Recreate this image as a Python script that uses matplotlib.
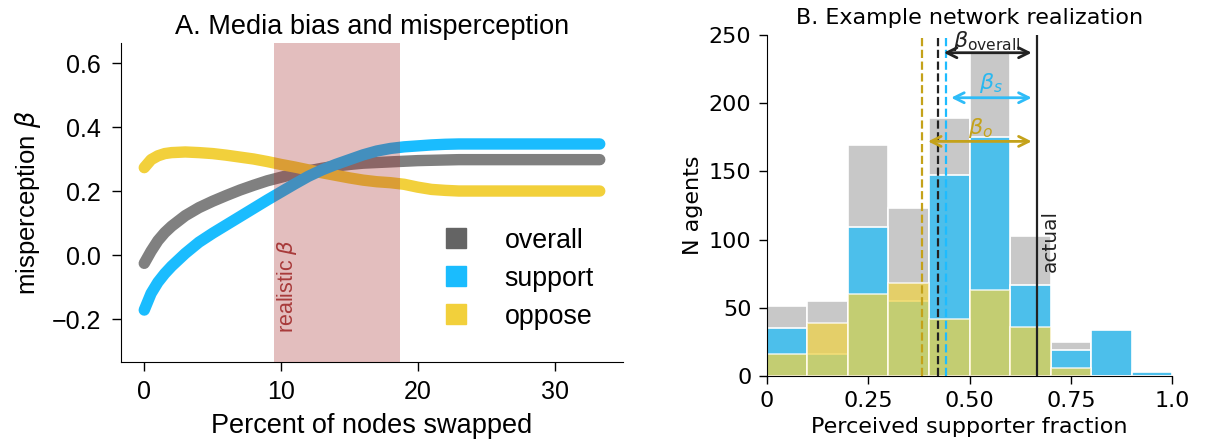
import matplotlib
matplotlib.use('Agg')
import matplotlib.pyplot as plt
from matplotlib.lines import Line2D

# ---------------- Panel A data ----------------
swapped_pct = [0, 0.5, 1, 1.5, 2, 3, 4, 5, 6, 7, 8, 9, 10, 11, 12, 13, 14, 15,
               16, 17, 18, 19, 20, 21, 22, 23, 25, 28, 31, 33.3]
beta_overall = [-0.026, 0.012, 0.045, 0.070, 0.090, 0.123, 0.148, 0.168, 0.186,
                0.203, 0.218, 0.232, 0.243, 0.254, 0.263, 0.271, 0.278, 0.283,
                0.287, 0.289, 0.291, 0.293, 0.295, 0.296, 0.297, 0.298, 0.298,
                0.298, 0.298, 0.298]
beta_support = [-0.172, -0.120, -0.085, -0.058, -0.035, 0.005, 0.040, 0.068,
                0.094, 0.120, 0.146, 0.172, 0.197, 0.222, 0.246, 0.266, 0.283,
                0.298, 0.313, 0.325, 0.333, 0.338, 0.341, 0.344, 0.346, 0.347,
                0.347, 0.347, 0.347, 0.347]
beta_oppose = [0.273, 0.298, 0.310, 0.317, 0.320, 0.322, 0.320, 0.317, 0.312,
               0.306, 0.300, 0.292, 0.283, 0.275, 0.266, 0.257, 0.249, 0.241,
               0.234, 0.229, 0.226, 0.221, 0.212, 0.205, 0.202, 0.200, 0.200,
               0.200, 0.200, 0.200]
realistic_range = [9.5, 18.7]
series_labels = ['overall', 'support', 'oppose']

# ---------------- Panel B data ----------------
bin_edges = [0.0, 0.1, 0.2, 0.3, 0.4, 0.5, 0.6, 0.7, 0.8, 0.9, 1.0]
support_counts = [35, 16, 109, 55, 147, 175, 67, 19, 34, 3]
oppose_counts = [16, 39, 60, 68, 42, 63, 36, 6, 0, 0]
overall_counts = [51, 55, 169, 123, 189, 238, 103, 25, 34, 3]
perceived_overall = 0.423
perceived_support = 0.441
perceived_oppose = 0.384
actual_fraction = 0.667
arrow_levels = [237, 204, 172]   # overall, support, oppose

# ---------------- styling ----------------
C_OVERALL_LINE = '#808080'
C_OVERALL_LEG = '#646464'
C_SUPPORT = '#1abcfe'
C_OPPOSE = '#f2d03b'
C_GRAY_BAR = '#c8c8c8'
C_BLUE_BAR = '#4cbfeb'
C_GOLD = '#c4a21a'
C_DARK = '#222222'
ARIAL = 'Liberation Sans'

plt.rcParams['font.family'] = ['DejaVu Sans']

fig = plt.figure(figsize=(12.08, 4.47), dpi=100)

# ================= Panel A =================
axA = fig.add_axes([121 / 1208, 1 - 361.7 / 447, 502 / 1208, 318.4 / 447])
axA.plot(swapped_pct, beta_overall, color=C_OVERALL_LINE, lw=8.2,
         solid_capstyle='round', zorder=2)
axA.plot(swapped_pct, beta_oppose, color=C_OPPOSE, lw=8.2,
         solid_capstyle='round', zorder=2.1)
axA.plot(swapped_pct, beta_support, color=C_SUPPORT, lw=8.2,
         solid_capstyle='round', zorder=2.2)
axA.axvspan(realistic_range[0], realistic_range[1], color='brown', alpha=0.3,
            lw=0, zorder=3)
axA.text(10.45, -0.097, r'realistic $\beta$', rotation=90, ha='center',
         va='center', color='#a83a3a', fontsize=15.5, family=ARIAL, zorder=4)

axA.set_xlim(-1.7, 35.0)
axA.set_ylim(-0.3334, 0.6616)
axA.set_xticks([0, 10, 20, 30])
axA.set_yticks([-0.2, 0.0, 0.2, 0.4, 0.6])
axA.set_yticklabels(['\u22120.2', '0.0', '0.2', '0.4', '0.6'])
for lab in axA.get_xticklabels() + axA.get_yticklabels():
    lab.set_family(ARIAL)
    lab.set_fontsize(18)
axA.tick_params(length=6.5, width=1, pad=7)
axA.tick_params(axis='y', pad=8)
for s in ['top', 'right']:
    axA.spines[s].set_visible(False)
axA.set_xlabel('Percent of nodes swapped', family=ARIAL, fontsize=19.5,
               labelpad=6)
axA.set_ylabel(r'misperception $\beta$', family=ARIAL, fontsize=18.5,
               labelpad=6)
axA.set_title('A. Media bias and misperception', family=ARIAL, fontsize=19.5,
              pad=7)

handles = [Line2D([], [], marker='s', ls='none', markersize=14.5,
                  color=c) for c in (C_OVERALL_LEG, C_SUPPORT, C_OPPOSE)]
axA.legend(handles, series_labels, frameon=False, loc='upper left',
           bbox_to_anchor=(0.593, 0.455), borderaxespad=0,
           prop={'family': ARIAL, 'size': 19.3}, handletextpad=0.8,
           labelspacing=0.45)

# ================= Panel B =================
axB = fig.add_axes([766.7 / 1208, 1 - 376 / 447, 405.6 / 1208, 341 / 447])
lefts = bin_edges[:-1]
widths = [bin_edges[i + 1] - bin_edges[i] for i in range(len(lefts))]
axB.bar(lefts, overall_counts, width=widths, align='edge', color=C_GRAY_BAR,
        edgecolor='white', lw=1.2, zorder=1)
axB.bar(lefts, support_counts, width=widths, align='edge', color=C_BLUE_BAR,
        edgecolor='white', lw=1.2, zorder=1.1)
axB.bar(lefts, oppose_counts, width=widths, align='edge', color='#eed248',
        alpha=0.74, edgecolor='white', lw=1.2, zorder=1.2)

axB.axvline(perceived_oppose, color=C_GOLD, ls='--', lw=1.6, zorder=3)
axB.axvline(perceived_overall, color=C_DARK, ls='--', lw=1.6, zorder=3)
axB.axvline(perceived_support, color='#1ebcff', ls='--', lw=1.6, zorder=3)
axB.axvline(actual_fraction, color=C_DARK, ls='-', lw=1.6, zorder=3)

for start, level, col in zip(
        [perceived_overall, perceived_support, perceived_oppose],
        arrow_levels, [C_DARK, '#2ebcf8', C_GOLD]):
    axB.annotate('', xy=(actual_fraction, level), xytext=(start, level),
                 arrowprops=dict(arrowstyle='<->', color=col, lw=2,
                                 mutation_scale=18, shrinkA=4, shrinkB=4),
                 zorder=4)

axB.text(0.542, 245.5, r'$\beta_{\rm overall}$', ha='center', va='center',
         fontsize=16, color=C_DARK)
axB.text(0.553, 215, r'$\beta_s$', ha='center', va='center', fontsize=16,
         color='#2ab8f0')
axB.text(0.526, 182, r'$\beta_o$', ha='center', va='center', fontsize=16,
         color=C_GOLD)
axB.text(0.698, 99, 'actual', rotation=90, ha='center', va='center',
         fontsize=14.5, color=C_DARK)

axB.set_xlim(0, 1)
axB.set_ylim(0, 250)
axB.set_xticks([0, 0.25, 0.5, 0.75, 1.0])
axB.set_xticklabels(['0', '0.25', '0.50', '0.75', '1.0'])
axB.set_yticks([0, 50, 100, 150, 200, 250])
axB.tick_params(labelsize=16, length=6, width=1, pad=5)
for s in ['top', 'right']:
    axB.spines[s].set_visible(False)
axB.set_xlabel('Perceived supporter fraction', fontsize=16, labelpad=4)
axB.set_ylabel('N agents', fontsize=16, labelpad=4)
axB.set_title('B. Example network realization', fontsize=16, pad=8)

fig.savefig('out.png', dpi=100)
